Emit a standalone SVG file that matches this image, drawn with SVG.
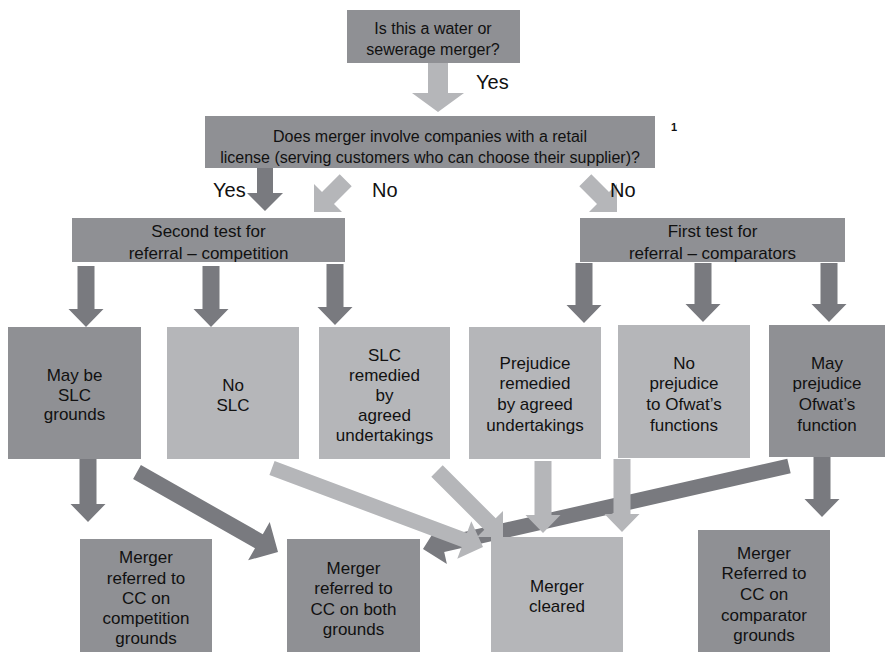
<svg xmlns="http://www.w3.org/2000/svg" width="893" height="652" viewBox="0 0 893 652">
<style>
.dk{fill:#8f9094}
.lt{fill:#b5b6b9}
.ad{fill:#797a7f}
.al{fill:#b5b6b9}
text{font-family:"Liberation Sans",Arial,sans-serif;fill:#111;text-anchor:middle}
.t16{font-size:16px}
.t17{font-size:17px}
.lab{font-size:20px;text-anchor:start}
.fn{font-size:11px;font-weight:bold;text-anchor:start}
</style>
<rect width="893" height="652" fill="#fff"/>
<g id="connectors">
  <polygon class="ad" points="787.3,458.7 790.7,473.3 444.2,551.9 446.9,564.1 423,549 438.1,525.1 440.8,537.3"/>
  <polygon class="al" points="428,63 448,63 448,93 464,93 438,112 412,93 428,93"/>
  <polygon class="ad" points="257,168 273,168 273,193 283,193 265,211 247,193 257,193"/>
  <polygon class="al" points="339.7,174.3 351.7,186.3 334,204 342,212 314,212 314,184 322,192"/>
  <polygon class="al" points="579.3,186.3 591.3,174.3 609,192 617,184 617,212 589,212 597,204"/>
  <polygon class="ad" points="77.5,266 94.5,266 94.5,309 103.5,309 86,327 68.5,309 77.5,309"/>
  <polygon class="ad" points="202.5,266 219.5,266 219.5,309 228.5,309 211,327 193.5,309 202.5,309"/>
  <polygon class="ad" points="326.5,264 343.5,264 343.5,307 352.5,307 335,325 317.5,307 326.5,307"/>
  <polygon class="ad" points="575.5,263 592.5,263 592.5,305 601.5,305 584,323 566.5,305 575.5,305"/>
  <polygon class="ad" points="694.5,263 711.5,263 711.5,304 720.5,304 703,322 685.5,304 694.5,304"/>
  <polygon class="ad" points="820.5,263 837.5,263 837.5,304 846.5,304 829,322 811.5,304 820.5,304"/>
  <polygon class="ad" points="79.5,459 96.5,459 96.5,504 105.5,504 88,522 70.5,504 79.5,504"/>
  <polygon class="ad" points="813.5,456 830.5,456 830.5,499 839.5,499 822,517 804.5,499 813.5,499"/>
  <polygon class="ad" points="133.1,479 255,548.2 248.1,560.3 278,552 269.7,522.1 262.8,534.2 140.9,465"/>
  <polygon class="al" points="269.4,475 461.6,547 457.3,558.7 483,547 471.3,521.3 466.9,533 274.6,461"/>
  <polygon class="al" points="431.3,476.7 484.3,529.7 477,537 503,537 503,511 495.7,518.3 442.7,465.3"/>
  <polygon class="al" points="534.5,461 551.5,461 551.5,515 560.5,515 543,533 525.5,515 534.5,515"/>
  <polygon class="al" points="613.5,459 630.5,459 630.5,514 639.5,514 622,532 604.5,514 613.5,514"/>
  <text class="lab" x="476" y="89">Yes</text>
  <text class="lab" x="213" y="197">Yes</text>
  <text class="lab" x="372" y="197">No</text>
  <text class="lab" x="610" y="197">No</text>
  <text class="fn" x="671" y="131">1</text>
</g>
<g id="q1">
  <rect class="dk" x="347" y="10" width="173" height="53"/>
  <text class="t16" x="433" y="34">Is this a water or</text>
  <text class="t16" x="433" y="55">sewerage merger?</text>
</g>
<g id="q2">
  <rect class="dk" x="205" y="116" width="450" height="52"/>
  <text class="t16" x="430" y="142">Does merger involve companies with a retail</text>
  <text class="t16" x="430" y="163">license (serving customers who can choose their supplier)?</text>
</g>
<g id="second-test">
  <rect class="dk" x="72" y="218" width="273" height="44"/>
  <text class="t17" x="208.5" y="237">Second test for</text>
  <text class="t17" x="208.5" y="259">referral – competition</text>
</g>
<g id="first-test">
  <rect class="dk" x="580" y="218" width="265" height="44"/>
  <text class="t17" x="712.5" y="237">First test for</text>
  <text class="t17" x="712.5" y="259">referral – comparators</text>
</g>
<g id="may-be-slc">
  <rect class="dk" x="8" y="327" width="133" height="132"/>
  <text class="t17" x="74.5" y="381">May be</text>
  <text class="t17" x="74.5" y="401">SLC</text>
  <text class="t17" x="74.5" y="420">grounds</text>
</g>
<g id="no-slc">
  <rect class="lt" x="167" y="327" width="132" height="132"/>
  <text class="t17" x="233" y="391">No</text>
  <text class="t17" x="233" y="411">SLC</text>
</g>
<g id="slc-remedied">
  <rect class="lt" x="319" y="327" width="131" height="132"/>
  <text class="t17" x="384.5" y="361">SLC</text>
  <text class="t17" x="384.5" y="381">remedied</text>
  <text class="t17" x="384.5" y="401">by</text>
  <text class="t17" x="384.5" y="421">agreed</text>
  <text class="t17" x="384.5" y="441">undertakings</text>
</g>
<g id="prejudice-remedied">
  <rect class="lt" x="469" y="327" width="132" height="132"/>
  <text class="t17" x="535" y="369">Prejudice</text>
  <text class="t17" x="535" y="389">remedied</text>
  <text class="t17" x="535" y="410">by agreed</text>
  <text class="t17" x="535" y="431">undertakings</text>
</g>
<g id="no-prejudice">
  <rect class="lt" x="618" y="325" width="132" height="133"/>
  <text class="t17" x="684" y="369">No</text>
  <text class="t17" x="684" y="389">prejudice</text>
  <text class="t17" x="684" y="410">to Ofwat’s</text>
  <text class="t17" x="684" y="431">functions</text>
</g>
<g id="may-prejudice">
  <rect class="dk" x="769" y="325" width="116" height="132"/>
  <text class="t17" x="827" y="369">May</text>
  <text class="t17" x="827" y="389">prejudice</text>
  <text class="t17" x="827" y="410">Ofwat’s</text>
  <text class="t17" x="827" y="431">function</text>
</g>
<g id="ref-competition">
  <rect class="dk" x="80" y="539" width="132" height="113"/>
  <text class="t17" x="146" y="563">Merger</text>
  <text class="t17" x="146" y="584">referred to</text>
  <text class="t17" x="146" y="604">CC on</text>
  <text class="t17" x="146" y="624">competition</text>
  <text class="t17" x="146" y="644">grounds</text>
</g>
<g id="ref-both">
  <rect class="dk" x="287" y="539" width="133" height="113"/>
  <text class="t17" x="353.5" y="574">Merger</text>
  <text class="t17" x="353.5" y="594">referred to</text>
  <text class="t17" x="353.5" y="615">CC on both</text>
  <text class="t17" x="353.5" y="635">grounds</text>
</g>
<g id="cleared">
  <rect class="lt" x="491" y="537" width="132" height="115"/>
  <text class="t17" x="557" y="592">Merger</text>
  <text class="t17" x="557" y="612">cleared</text>
</g>
<g id="ref-comparator">
  <rect class="dk" x="698" y="530" width="132" height="122"/>
  <text class="t17" x="764" y="559">Merger</text>
  <text class="t17" x="764" y="579">Referred to</text>
  <text class="t17" x="764" y="600">CC on</text>
  <text class="t17" x="764" y="621">comparator</text>
  <text class="t17" x="764" y="641">grounds</text>
</g>
</svg>
